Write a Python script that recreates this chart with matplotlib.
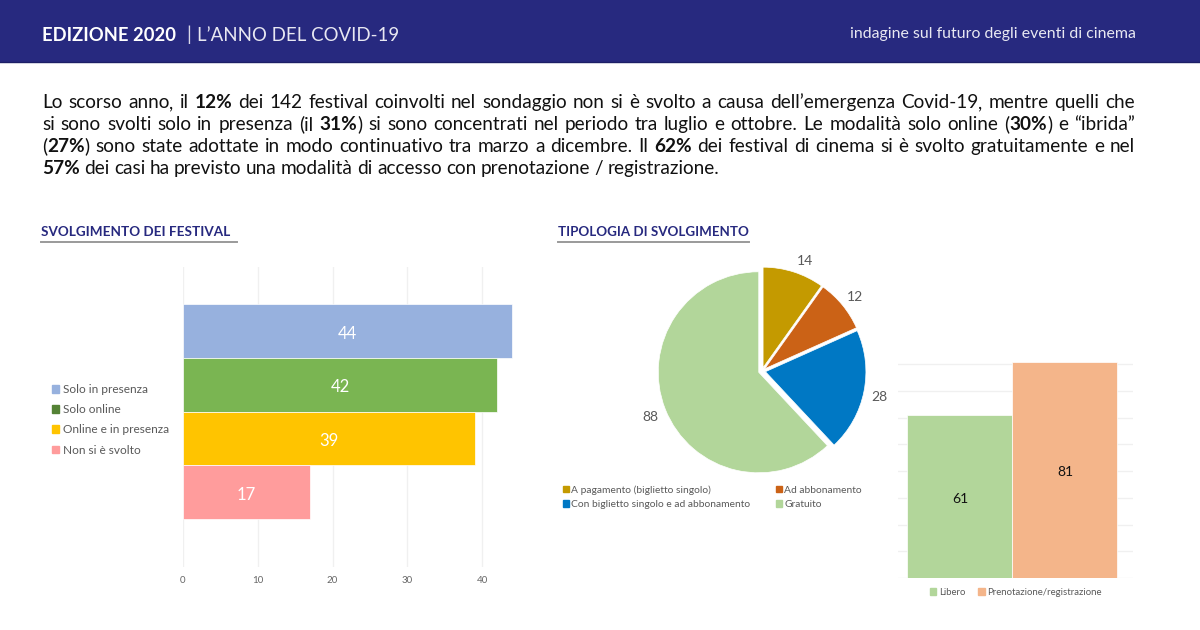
import re

import matplotlib
matplotlib.use("Agg")
from matplotlib import pyplot as plt
from matplotlib.patches import Patch, Rectangle

W, H = 1200, 630

# text
header_bold = "EDIZIONE 2020"
header_light = "L\u2019ANNO DEL COVID-19"
header_right = "indagine sul futuro degli eventi di cinema"
body_lines = [
    "Lo scorso anno, il **12%** dei 142 festival coinvolti nel sondaggio non si è svolto a causa dell\u2019emergenza Covid-19, mentre quelli che",
    "si sono svolti solo in presenza (il **31%**) si sono concentrati nel periodo tra luglio e ottobre. Le modalità solo online (**30%**) e \u201cibrida\u201d",
    "(**27%**) sono state adottate in modo continuativo tra marzo a dicembre. Il **62%** dei festival di cinema si è svolto gratuitamente e nel",
    "**57%** dei casi ha previsto una modalità di accesso con prenotazione / registrazione.",
]
title_left = "SVOLGIMENTO DEI FESTIVAL"
title_mid = "TIPOLOGIA DI SVOLGIMENTO"

# left chart
mode_labels = ["Solo in presenza", "Solo online", "Online e in presenza", "Non si è svolto"]
mode_values = [44, 42, 39, 17]
mode_colors = ["#97b1de", "#7ab552", "#ffc400", "#ff9c9c"]
mode_legend_colors = ["#97b1de", "#548235", "#ffc400", "#ff9c9c"]
mode_ticks = [0, 10, 20, 30, 40]

# pie
ticket_labels = ["A pagamento (biglietto singolo)", "Ad abbonamento",
                 "Con biglietto singolo e ad abbonamento", "Gratuito"]
ticket_values = [14, 12, 28, 88]
ticket_colors = ["#c49a00", "#cb6216", "#0078c4", "#b2d69a"]

# right chart
access_labels = ["Libero", "Prenotazione/registrazione"]
access_values = [61, 81]
access_colors = ["#b2d69a", "#f4b58a"]
access_ticks = [0, 10, 20, 30, 40, 50, 60, 70, 80]

NAVY = "#27297f"
BODY_FONT = "Lato"
CHART_FONT = "Lato"


def px_axes(fig, left, top, right, bottom):
    # axes from pixel coordinates, y counted from the top of the image
    return fig.add_axes([left / W, 1 - bottom / H, (right - left) / W, (bottom - top) / H])


def draw_justified(ax, line, x0, x1, y, justify=True, size=13.7):
    renderer = ax.figure.canvas.get_renderer()
    parts = re.split(r"\*\*", line)
    # every word is a list of (text, bold) runs
    words = [[]]
    for i, part in enumerate(parts):
        bits = part.split(" ")
        for j, bit in enumerate(bits):
            if j > 0:
                words.append([])
            if bit.endswith(","):
                # a trailing comma pushes the whole word one pixel down, keep it apart
                words[-1].append((bit[:-1], i % 2 == 1))
                words[-1].append((",", i % 2 == 1))
            elif bit:
                words[-1].append((bit, i % 2 == 1))
    words = [w for w in words if w]

    drawn = []
    total = 0
    for word in words:
        runs = []
        for text, bold in word:
            t = ax.text(0, y, text, fontsize=size, family=BODY_FONT, color="#111111",
                        fontweight="bold" if bold else "normal", va="baseline", ha="left")
            width = t.get_window_extent(renderer).width
            runs.append((t, width))
            total += width
        drawn.append(runs)

    if justify:
        gap = (x1 - x0 - total) / (len(drawn) - 1)
    else:
        gap = 4.4
    x = x0
    for runs in drawn:
        for t, width in runs:
            t.set_x(x)
            x += width
        x += gap


def shift_labels(labels, dy):
    # bar_label centres on the line box, the digits sit a little high
    for label in labels:
        label.xyann = (0, dy)


def main():
    plt.rcParams["font.family"] = [CHART_FONT, "DejaVu Sans"]
    fig = plt.figure(figsize=(W / 100, H / 100), dpi=100, facecolor="white")

    # page layer in pixel coordinates
    page = fig.add_axes([0, 0, 1, 1])
    page.set_xlim(0, W)
    page.set_ylim(H, 0)
    page.axis("off")

    page.add_patch(Rectangle((0, 0), W, 62, color=NAVY, lw=0))
    page.plot([0, W], [62, 62], color="#1d1f66", lw=1)
    page.text(42, 41.3, header_bold, color="white", fontsize=13.2, fontweight="bold", va="baseline")
    page.text(186, 41.3, "|", color="#d8d8e8", fontsize=14, va="baseline")
    page.text(197, 41.3, header_light, color="#e8e8f2", fontsize=13.4, va="baseline")
    page.text(1136, 38.3, header_right, color="#e8e8f2", fontsize=11.45, ha="right", va="baseline")

    for i, line in enumerate(body_lines):
        draw_justified(page, line, 42, 1135, 108.0 + 22 * i, justify=i < 3)

    page.text(41, 235.7, title_left, color=NAVY, fontsize=9.7, fontweight="bold", va="baseline")
    page.plot([41, 237], [241.5, 241.5], color="#9a9a9a", lw=1.4)
    page.text(558, 235.7, title_mid, color=NAVY, fontsize=9.6, fontweight="bold", va="baseline")
    page.plot([558, 749], [241.5, 241.5], color="#9a9a9a", lw=1.4)

    # horizontal bars
    ax = px_axes(fig, 183, 267, 520, 567)
    rows = [3, 2, 1, 0]
    bars = ax.barh(rows, mode_values, height=1.0, color=mode_colors, edgecolor="white", linewidth=0.5)
    shift_labels(ax.bar_label(bars, label_type="center", color="white", fontsize=12), -2)
    ax.set_xlim(0, 45.05)
    ax.set_ylim(-1.391, 4.19)
    ax.set_xticks(mode_ticks)
    ax.set_yticks([])
    ax.tick_params(axis="x", length=0, labelsize=7, labelcolor="#666666", pad=6.7)
    ax.grid(axis="x", color="#f0f0f0", lw=1)
    ax.set_axisbelow(True)
    ax.patch.set_alpha(0)
    for spine in ax.spines.values():
        spine.set_visible(False)

    handles = [Patch(color=c) for c in mode_legend_colors]
    fig.legend(handles, mode_labels, loc="upper left", bbox_to_anchor=(52 / W, 1 - 384 / H),
               frameon=False, fontsize=8.6, handlelength=0.62, handleheight=0.62,
               handletextpad=0.3, labelspacing=0.77, borderpad=0, borderaxespad=0,
               labelcolor="#595959")

    # pie
    ax = px_axes(fig, 612, 221, 912, 521)
    _, pie_texts = ax.pie(ticket_values, labels=[str(v) for v in ticket_values], colors=ticket_colors,
                          startangle=90, counterclock=False, radius=1.005, explode=[0.035] * 4,
                          labeldistance=1.16, wedgeprops={"linewidth": 0.5, "edgecolor": "white"},
                          textprops={"fontsize": 10, "color": "#595959"})
    for t in pie_texts:
        t.set_ha("center")
        t.set_va("center")
        # the labels sit a bit lower than the radial spot
        x, y = t.get_position()
        t.set_position((x, y - 0.02))
    x, y = pie_texts[0].get_position()
    pie_texts[0].set_position((x + 0.06, y - 0.02))
    ax.set_xlim(-1.5, 1.5)
    ax.set_ylim(-1.5, 1.5)

    # legend fills by column, the picture reads by row
    order = [0, 2, 1, 3]
    handles = [Patch(color=ticket_colors[i]) for i in order]
    fig.legend(handles, [ticket_labels[i] for i in order], loc="upper left",
               bbox_to_anchor=(563 / W, 1 - 485 / H), ncol=2, frameon=False, fontsize=7.4,
               handlelength=0.55, handleheight=0.55, handletextpad=0.25, labelspacing=0.55,
               columnspacing=2.5, borderpad=0, borderaxespad=0, labelcolor="#595959")

    # vertical bars
    ax = px_axes(fig, 897.5, 360, 1132.5, 578)
    bars = ax.bar([0, 1], access_values, width=1.0, color=access_colors, edgecolor="white", linewidth=0.5)
    shift_labels(ax.bar_label(bars, label_type="center", color="#111111", fontsize=10), -1.5)
    ax.set_xlim(-0.595, 1.643)
    ax.set_ylim(0, 81.6)
    ax.set_xticks([])
    ax.set_yticks(access_ticks)
    ax.tick_params(axis="y", length=0, labelleft=False)
    ax.grid(axis="y", color="#f0f0f0", lw=1)
    ax.set_axisbelow(True)
    ax.patch.set_alpha(0)
    for spine in ax.spines.values():
        spine.set_visible(False)

    handles = [Patch(color=c) for c in access_colors]
    fig.legend(handles, access_labels, loc="upper left", bbox_to_anchor=(930 / W, 1 - 588 / H),
               ncol=2, frameon=False, fontsize=6.9, handlelength=0.65, handleheight=0.65,
               handletextpad=0.3, columnspacing=1.35, borderpad=0, borderaxespad=0,
               labelcolor="#595959")

    fig.savefig("out.png", dpi=100)


if __name__ == "__main__":
    main()
